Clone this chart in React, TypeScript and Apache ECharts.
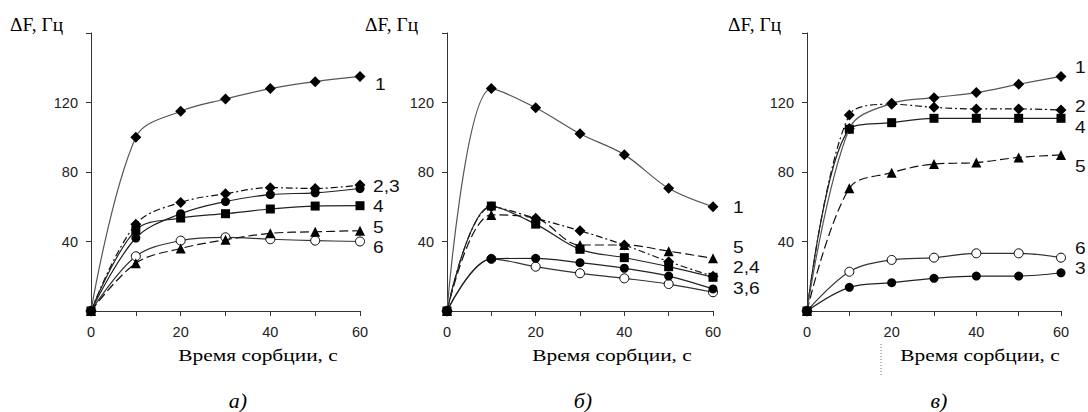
import React, { useEffect, useRef } from "react";
import * as echarts from "echarts";

const xValues = [0, 10, 20, 30, 40, 50, 60];
const yTicks = [40, 80, 120];

// Panel а)
const aS1 = [0, 100, 115, 122, 128, 132, 135];
const aS2 = [0, 50, 62.5, 67.5, 71, 70.5, 72.5];
const aS3 = [0, 42, 56, 63, 67, 68, 70.5];
const aS4 = [0, 46.5, 53.5, 56, 58.7, 60.4, 60.6];
const aS5 = [0, 27.5, 36, 41, 44.7, 45.6, 46.2];
const aS6 = [0, 31.5, 40.5, 42.4, 41.3, 40.5, 40];

// Panel б)
const bS1 = [0, 128, 117, 102, 90, 70.6, 60];
const bS2 = [0, 60, 53.4, 46.2, 38, 28.4, 20];
const bS3 = [0, 30, 30.3, 27.8, 24.6, 20.1, 12.7];
const bS4 = [0, 60.4, 50, 35.5, 30.7, 25.5, 19.4];
const bS5 = [0, 55.3, 53.4, 38, 38, 34.4, 30.3];
const bS6 = [0, 30, 25.5, 21.7, 18.8, 15.5, 10.8];

// Panel в)
const cS1 = [0, 105, 119.5, 122.8, 125.7, 130.5, 135];
const cS2 = [0, 112.8, 119, 117.2, 116.3, 116.3, 115.7];
const cS3 = [0, 13.6, 16.3, 18.8, 20.1, 20.1, 22];
const cS4 = [0, 104.6, 108.4, 110.9, 110.9, 110.9, 110.9];
const cS5 = [0, 70.6, 79.6, 84.6, 85.4, 88.4, 89.8];
const cS6 = [0, 22.6, 29.4, 30.7, 33.2, 33.2, 30.7];

const yTitle = "ΔF, Гц";
const xTitle = "Время сорбции, с";
const panelLetters = ["а)", "б)", "в)"];
const seriesLabelsA = ["1", "2,3", "4", "5", "6"];
const seriesLabelsB = ["1", "5", "2,4", "3,6"];
const seriesLabelsC = ["1", "2", "4", "5", "6", "3"];

type Style = {
  symbol: string;
  size: number;
  lineColor: string;
  dash: any;
  fill: string;
};

const styles: Style[] = [
  { symbol: "diamond", size: 11, lineColor: "#555", dash: "solid", fill: "#000" },
  { symbol: "diamond", size: 11, lineColor: "#111", dash: [7, 3, 2, 3], fill: "#000" },
  { symbol: "circle", size: 9, lineColor: "#222", dash: "solid", fill: "#000" },
  { symbol: "rect", size: 9, lineColor: "#222", dash: "solid", fill: "#000" },
  { symbol: "triangle", size: 10, lineColor: "#111", dash: [9, 4], fill: "#000" },
  { symbol: "circle", size: 9, lineColor: "#333", dash: "solid", fill: "#fff" },
];

const grids = [
  { left: 91, top: 33, width: 269, height: 278 },
  { left: 447, top: 33, width: 266, height: 278 },
  { left: 807, top: 33, width: 254, height: 278 },
];

function makeSeries(data: number[], idx: number, gridIdx: number, order: number) {
  const st = styles[idx];
  return {
    type: "line",
    xAxisIndex: gridIdx,
    yAxisIndex: gridIdx,
    data: xValues.map((x, i) => [x, data[i]]),
    smooth: 0.35,
    symbol: st.symbol,
    symbolSize: st.size,
    showSymbol: true,
    z: 2 + order,
    lineStyle: { color: st.lineColor, width: 1.2, type: st.dash },
    itemStyle: {
      color: st.fill,
      borderColor: "#000",
      borderWidth: st.fill === "#fff" ? 1 : 0,
    },
    emphasis: { disabled: true },
  };
}

function txt(x: number, y: number, text: string, opts: any = {}, scaleX = 1.2) {
  return {
    type: "text",
    x,
    y,
    scaleX,
    style: {
      text,
      fill: "#111",
      fontSize: 16,
      fontFamily: "Liberation Sans, Arial, sans-serif",
      textVerticalAlign: "middle",
      ...opts,
    },
  };
}

export default function App() {
  const ref = useRef<HTMLDivElement>(null);
  useEffect(() => {
    if (!ref.current) return;
    const chart = echarts.init(ref.current, null, { renderer: "svg" });
    const xAxes = grids.map((_, g) => ({
      type: "value",
      gridIndex: g,
      min: 0,
      max: 60,
      interval: 10,
      splitLine: { show: false },
      axisLine: { lineStyle: { color: "#333", width: 1 } },
      axisTick: { show: true, length: 5, lineStyle: { color: "#333" } },
      axisLabel: {
        margin: 13,
        fontSize: 14.5,
        color: "#222",
        fontFamily: "Liberation Sans, Arial, sans-serif",
        formatter: (v: number) => (v % 20 === 0 ? String(v) : ""),
      },
    }));
    const yAxes = grids.map((_, g) => ({
      type: "value",
      gridIndex: g,
      min: 0,
      max: 160,
      interval: 40,
      splitLine: { show: false },
      axisLine: { show: true, lineStyle: { color: "#333", width: 1 } },
      axisTick: { show: true, length: 5, lineStyle: { color: "#333" } },
      axisLabel: {
        margin: 13,
        fontSize: 14.5,
        color: "#222",
        fontFamily: "Liberation Sans, Arial, sans-serif",
        formatter: (v: number) => (yTicks.includes(v) ? String(v) : ""),
      },
    }));

    const series: any[] = [];
    const A = [aS1, aS2, aS3, aS4, aS5, aS6];
    const B = [bS1, bS2, bS3, bS4, bS5, bS6];
    const C = [cS1, cS2, cS3, cS4, cS5, cS6];
    const order = [5, 4, 2, 1, 3, 0];
    [A, B, C].forEach((panel, g) => {
      order.forEach((i, k) => series.push(makeSeries(panel[i], i, g, k)));
    });

    const serif = "Liberation Serif, Times New Roman, serif";
    const yT = { fontFamily: serif, fontSize: 18, fill: "#000" };
    const xT = { fontFamily: serif, fontSize: 17, textAlign: "center", fill: "#000" };
    const lT = { fontFamily: serif, fontSize: 20, fontStyle: "italic", textAlign: "center", fill: "#000" };
    const graphic: any[] = [
      // y titles
      txt(10, 25, yTitle, yT, 1.08),
      txt(365, 25, yTitle, yT, 1.08),
      txt(728, 25, yTitle, yT, 1.08),
      // x titles
      txt(258, 355, xTitle, xT, 1.26),
      txt(612, 355, xTitle, xT, 1.26),
      txt(980, 355, xTitle, xT, 1.26),
      // panel letters
      txt(238, 401, panelLetters[0], lT, 1.1),
      txt(583, 401, panelLetters[1], lT, 1.1),
      txt(939, 401, panelLetters[2], lT, 1.1),
      // series labels а)
      txt(375, 85, seriesLabelsA[0]),
      txt(373, 187, seriesLabelsA[1]),
      txt(373, 207, seriesLabelsA[2]),
      txt(373, 228, seriesLabelsA[3]),
      txt(373, 248, seriesLabelsA[4]),
      // series labels б)
      txt(733, 208, seriesLabelsB[0]),
      txt(733, 248, seriesLabelsB[1]),
      txt(733, 268, seriesLabelsB[2]),
      txt(733, 289, seriesLabelsB[3]),
      // series labels в)
      txt(1075, 68, seriesLabelsC[0]),
      txt(1075, 107, seriesLabelsC[1]),
      txt(1075, 128, seriesLabelsC[2]),
      txt(1075, 167, seriesLabelsC[3]),
      txt(1075, 249, seriesLabelsC[4]),
      txt(1075, 269, seriesLabelsC[5]),
      // small dotted artifact
      {
        type: "line",
        shape: { x1: 881, y1: 344, x2: 881, y2: 376 },
        style: { stroke: "#777", lineWidth: 1, lineDash: [1, 2] },
      },
    ];

    chart.setOption({
      animation: false,
      backgroundColor: "#fff",
      grid: grids.map((g) => ({ ...g, containLabel: false })),
      xAxis: xAxes,
      yAxis: yAxes,
      series,
      graphic,
    });
    return () => chart.dispose();
  }, []);
  return (
    <div
      ref={ref}
      style={{ position: "fixed", left: 0, top: 0, width: 1088, height: 412, background: "#fff" }}
    />
  );
}
